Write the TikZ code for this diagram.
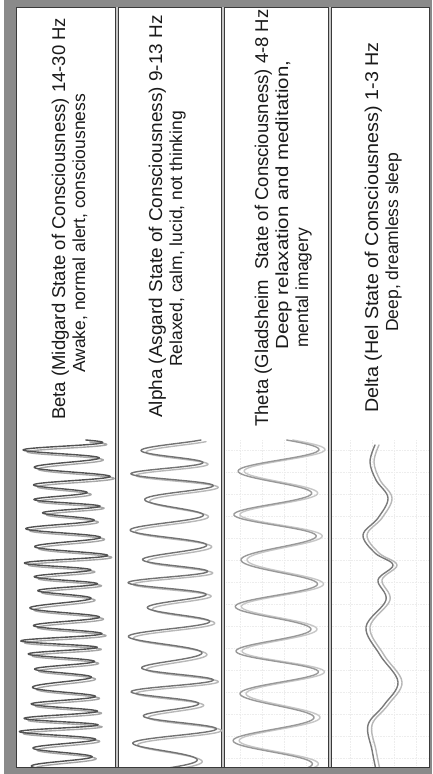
\documentclass[tikz,border=0pt]{standalone}
\usepackage{fontspec}
\setmainfont{Liberation Sans}
\usetikzlibrary{positioning}
\definecolor{frame}{HTML}{8A8A8A}
\definecolor{rule}{HTML}{3A3A3A}
\definecolor{ink}{HTML}{1A1A1A}

\begin{document}
\begin{tikzpicture}[
    x=1pt, y=-1pt,
    every node/.style={font=\fontsize{18.5}{20}\selectfont, text=ink},
    heading/.style={rotate=90, anchor=base west, inner sep=0pt},
    remark/.style={heading, font=\fontsize{17.5}{20}\selectfont},
    divider/.style={draw=rule, line width=1.1pt, double=frame!50!white, double distance=1.4pt},
    trace/.style={line width=1.4pt, line join=round, line cap=round},
    faint/.style={black!7, line width=0.6pt, densely dotted},
]

% ===== Frame =====
\useasboundingbox (0,0) rectangle (432,774);
\fill[white] (0,0) rectangle (432,774);
\fill[frame] (4,0) rectangle (432,774);
\fill[white, draw=rule, line width=1pt] (16,7) rectangle (429,767);

% ===== Faint chart grid behind Theta and Delta =====
\foreach \gy in {450,472,...,760}
    \draw[faint] (226,\gy) -- (428,\gy);
\foreach \gx in {240,262,...,420}
    \draw[faint] (\gx,440) -- (\gx,766);

% ===== Column dividers =====
\foreach \dx in {117,223,330}
    \draw[divider] (\dx,7) -- (\dx,767);

% ===== Brain waves =====
\begin{scope}
    \clip (17,8) rectangle (428,766);
    % Beta: fast and irregular
    \foreach \sh/\tone in {4/black!35, 0/black!68}
        \draw[trace, draw=\tone, xshift=\sh, yshift=-\sh/2] plot[variable=\t, domain=440:770, samples=600]
            ({64 - 0.02*(\t-600) + 5*sin(9.3*\t) + (33 + 5*sin(4.1*\t) + 4*sin(13*\t))*sin((\t-440)*23 + 45*sin(5*\t))}, {\t});
    % Alpha
    \foreach \sh/\tone in {5/black!28, 0/black!55}
        \draw[trace, draw=\tone, xshift=\sh, yshift=-\sh/3] plot[variable=\t, domain=440:770, samples=450]
            ({172 + 4*sin(6.1*\t) + (35 + 7*sin(7*\t))*sin((\t-443)*13.333 + 200 + 40*sin(3.1*\t))}, {\t});
    % Theta
    \foreach \sh/\tone in {6/black!22, 0/black!40}
        \draw[trace, draw=\tone, xshift=\sh] plot[variable=\t, domain=440:770, samples=300]
            ({276 + (39 + 4*sin(5*\t))*cos((\t-493)*8 + 12*sin(2.2*\t))}, {\t});
    % Delta: slow
    \foreach \sh/\tone in {4/black!28, 0/black!52}
        \draw[trace, draw=\tone, xshift=\sh] plot[smooth, tension=0.6] coordinates {
            (375,445) (370,462) (376,480) (388,498) (378,518) (363,535) (375,553)
            (393,565) (378,580) (386,600) (366,627) (380,655) (398,682) (384,705)
            (368,725) (372,750) (376,770)};
\end{scope}

% ===== Labels =====
\node[heading] (betatitle) at (65,420) {Beta (Midgard State of Consciousness) 14-30 Hz};
\node[remark] (betanote) at (85,373) {Awake, normal alert, consciousness};

\node[heading, xscale=1.025] (alphatitle) at (162,418) {Alpha (Asgard State of Consciousness) 9-13 Hz};
\node[remark] (alphanote) at (182,367) {Relaxed, calm, lucid, not thinking};

\node[heading] (thetatitle) at (268,427) {Theta (Gladsheim\ \ State of Consciousness) 4-8 Hz};
\node[remark, xscale=1.17] (thetanote) at (288,350) {Deep relaxation and meditation,};
\node[remark] (thetanotetwo) at (308,348) {mental imagery};

\node[heading, xscale=1.066] (deltatitle) at (378,413) {Delta (Hel State of Consciousness) 1-3 Hz};
\node[remark] (deltanote) at (398,332) {Deep, dreamless sleep};

\end{tikzpicture}
\end{document}
